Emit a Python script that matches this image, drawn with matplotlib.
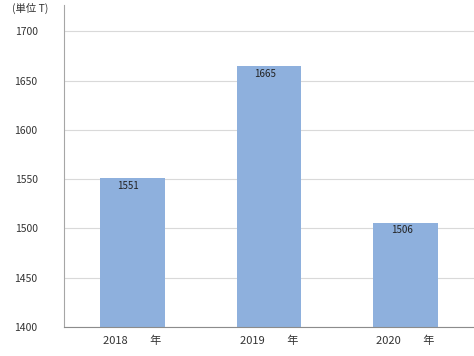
import matplotlib
matplotlib.use("Agg")
import matplotlib.pyplot as plt

plt.rcParams['font.family'] = ['Noto Sans CJK JP', 'DejaVu Sans']

# Data
years = ["2018", "2019", "2020"]
values = [1551, 1665, 1506]
tick_labels = [f"{y}         年" for y in years]

bar_color = "#8EB0DD"

fig = plt.figure(figsize=(4.74, 3.56), dpi=100)
ax = fig.add_axes([0.135, 0.0815, 0.865, 0.905])

x = [i + 0.5 for i in range(len(years))]
ax.bar(x, values, width=0.475, color=bar_color, zorder=2)

for xi, v in zip(x, values):
    ax.text(xi - 0.03, v - 8, str(v), ha="center", va="center", fontsize=7, color="#222222", zorder=3)

ax.set_xlim(0, 3)
ax.set_ylim(1400, 1727)
ax.set_yticks(range(1400, 1701, 50))
ax.set_xticks(x)
ax.set_xticklabels(tick_labels, fontsize=8)
ax.tick_params(axis="both", length=0, colors="#333333")
ax.tick_params(axis="y", pad=19, labelsize=7.5)
ax.tick_params(axis="x", pad=6)

ax.grid(axis="y", color="#d9d9d9", linewidth=0.8, zorder=0)
for s in ["top", "right"]:
    ax.spines[s].set_visible(False)
ax.spines["left"].set_color("#a6a6a6")
ax.spines["bottom"].set_color("#8c8c8c")

fig.text(0.025, 0.975, "(単位 T)", fontsize=7.5, color="#333333", ha="left", va="center")

fig.savefig("out.png", dpi=100)
